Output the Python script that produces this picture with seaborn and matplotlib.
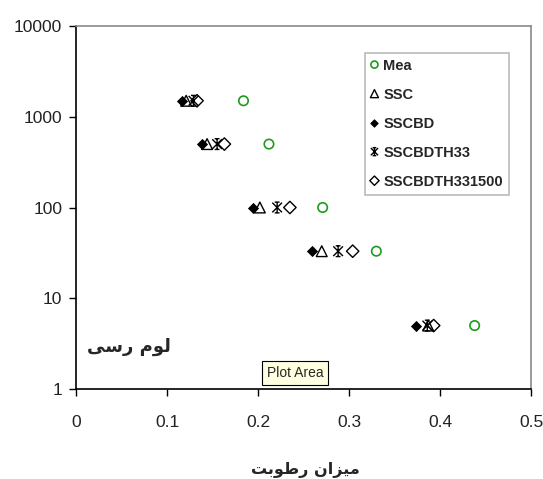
#%% MODULE BEGINS
module_name = "retention_plot"

'''
Description:
    Suction vs. moisture content for a clay loam soil,
    measured values (Mea) against the SSC model variants.
'''

#%% IMPORTS                    ~~~~~~~~~~~~~~~~~~~~~~~~~~~~~~~~~~~~~~~~~~~~
import matplotlib
matplotlib.use("Agg")
import numpy  as np
import pandas as pd
import seaborn as sns
from   matplotlib import pyplot as plt
from   matplotlib.path import Path
from   matplotlib.ticker import NullLocator

#%% CONSTANTS                   ~~~~~~~~~~~~~~~~~~~~~~~~~~~~~~~~~~~~~~~~~~~~
# suction levels, shared by every series (log axis)
suction = [1500, 500, 100, 33, 5]

# moisture content
mea           = [0.184, 0.212, 0.271, 0.330, 0.438]
ssc           = [0.121, 0.144, 0.202, 0.270, 0.387]
sscbd         = [0.116, 0.138, 0.195, 0.259, 0.374]
sscbdth33     = [0.129, 0.155, 0.221, 0.288, 0.386]
sscbdth331500 = [0.133, 0.163, 0.235, 0.304, 0.393]

series_names = ["Mea", "SSC", "SSCBD", "SSCBDTH33", "SSCBDTH331500"]

x_ticks       = [0, 0.1, 0.2, 0.3, 0.4, 0.5]
x_tick_labels = ["0", "0.1", "0.2", "0.3", "0.4", "0.5"]
y_ticks       = [1, 10, 100, 1000, 10000]
y_tick_labels = ["1", "10", "100", "1000", "10000"]

x_title    = "میزان رطوبت"
soil_label = "لوم رسی"
tooltip    = "Plot Area"

#%% CONFIGURATION               ~~~~~~~~~~~~~~~~~~~~~~~~~~~~~~~~~~~~~~~~~~~~
GREEN = "#1f9a1f"

# excel style star marker: vertical bar + X + caps top and bottom (looks like Ж)
M, L = Path.MOVETO, Path.LINETO
star_path = Path(
    [(0, -1), (0, 1),
     (-0.9, -0.9), (0.9, 0.9),
     (-0.9, 0.9), (0.9, -0.9),
     (-0.45, 1), (0.45, 1),
     (-0.45, -1), (0.45, -1)],
    [M, L, M, L, M, L, M, L, M, L])

styles = {
    "Mea":           dict(marker="o", s=46, facecolor="none", edgecolor=GREEN, linewidth=1.2),
    "SSC":           dict(marker="^", s=60, facecolor="none", edgecolor="black", linewidth=1.0),
    "SSCBD":         dict(marker="D", s=26, facecolor="black", edgecolor="black", linewidth=0.6),
    "SSCBDTH33":     dict(marker=star_path, s=60, facecolor="none", edgecolor="black", linewidth=1.0),
    "SSCBDTH331500": dict(marker="D", s=40, facecolor="none", edgecolor="black", linewidth=1.0),
}

# presentation forms (iso, fin, ini, med); matplotlib does not join arabic letters
FORMS = {
    "ا": ("\uFE8D", "\uFE8E", None, None),
    "ب": ("\uFE8F", "\uFE90", "\uFE91", "\uFE92"),
    "ت": ("\uFE95", "\uFE96", "\uFE97", "\uFE98"),
    "ر": ("\uFEAD", "\uFEAE", None, None),
    "ز": ("\uFEAF", "\uFEB0", None, None),
    "س": ("\uFEB1", "\uFEB2", "\uFEB3", "\uFEB4"),
    "ط": ("\uFEC1", "\uFEC2", "\uFEC3", "\uFEC4"),
    "ل": ("\uFEDD", "\uFEDE", "\uFEDF", "\uFEE0"),
    "م": ("\uFEE1", "\uFEE2", "\uFEE3", "\uFEE4"),
    "ن": ("\uFEE5", "\uFEE6", "\uFEE7", "\uFEE8"),
    "و": ("\uFEED", "\uFEEE", None, None),
    "ی": ("\uFBFC", "\uFBFD", "\uFBFE", "\uFBFF"),
}

def shape_fa(txt):
    words = []
    for word in txt.split(" "):
        w = ""
        for i, ch in enumerate(word):
            iso, fin, ini, med = FORMS[ch]
            prev_joins = i > 0 and FORMS[word[i-1]][2] is not None
            joins_next = ini is not None and i < len(word) - 1
            if prev_joins and joins_next: w += med
            elif prev_joins:              w += fin
            elif joins_next:              w += ini
            else:                         w += iso
        #end
        words.append(w[::-1])
    #end
    return " ".join(words[::-1])
#end

#%% MAIN CODE                  ~~~~~~~~~~~~~~~~~~~~~~~~~~~~~~~~~~~~~~~~~~~~
sns.set_theme(style="white")
plt.rcParams["font.family"] = ["Liberation Sans", "DejaVu Sans"]

values = [mea, ssc, sscbd, sscbdth33, sscbdth331500]
df = pd.DataFrame({
    "moisture": np.concatenate(values),
    "suction":  suction * len(series_names),
    "series":   np.repeat(series_names, len(suction)),
})

fig, ax = plt.subplots(figsize=(5.43, 4.79), dpi=100)
fig.subplots_adjust(left=0.140, right=0.978, top=0.9457, bottom=0.1879)

for name in series_names:
    sub = df[df["series"] == name]
    sns.scatterplot(data=sub, x="moisture", y="suction", ax=ax,
                    label=name, zorder=3, **styles[name])
#end

ax.set_yscale("log")
ax.set_xlim(0, 0.5)
ax.set_ylim(1, 10000)
ax.set_xticks(x_ticks)
ax.set_xticklabels(x_tick_labels)
ax.set_yticks(y_ticks)
ax.set_yticklabels(y_tick_labels)
ax.yaxis.set_minor_locator(NullLocator())
ax.tick_params(axis="both", direction="out", length=5, width=1, color="black",
               labelsize=12.5, labelcolor="#222222", left=True, bottom=True)
ax.tick_params(axis="x", pad=14)
ax.tick_params(axis="y", pad=5)

for side in ["left", "bottom"]:
    ax.spines[side].set_color("black")
    ax.spines[side].set_linewidth(1.2)
for side in ["top", "right"]:
    ax.spines[side].set_color("#8a8a8a")
    ax.spines[side].set_linewidth(1.2)

ax.set_ylabel("")
ax.set_xlabel(shape_fa(x_title), fontsize=11.5, fontweight="bold",
              family=["DejaVu Sans"])
ax.xaxis.label.set_va("center")
ax.xaxis.set_label_coords(0.505, -0.223)

ax.text(0.117, 0.117, shape_fa(soil_label), transform=ax.transAxes,
        ha="center", va="center", fontsize=13, fontweight="bold",
        family=["DejaVu Sans"])

fig.text(0.543, 0.222, tooltip, ha="center", va="center", fontsize=10,
         bbox=dict(boxstyle="square,pad=0.35", facecolor="#ffffe1",
                   edgecolor="black", linewidth=0.8))

leg = ax.legend(loc="upper left", bbox_to_anchor=(0.635, 0.926), borderaxespad=0,
                frameon=True, fancybox=False, framealpha=1, edgecolor="#c0c0c0",
                prop=dict(family="Liberation Sans", weight="bold", size=10.5),
                markerscale=0.75, scatteryoffsets=[0.5], handlelength=0.5,
                handletextpad=0.36, labelspacing=1.03, borderpad=0.4)
leg.get_frame().set_linewidth(1.3)

fig.savefig("out.png", dpi=100, facecolor="white")
